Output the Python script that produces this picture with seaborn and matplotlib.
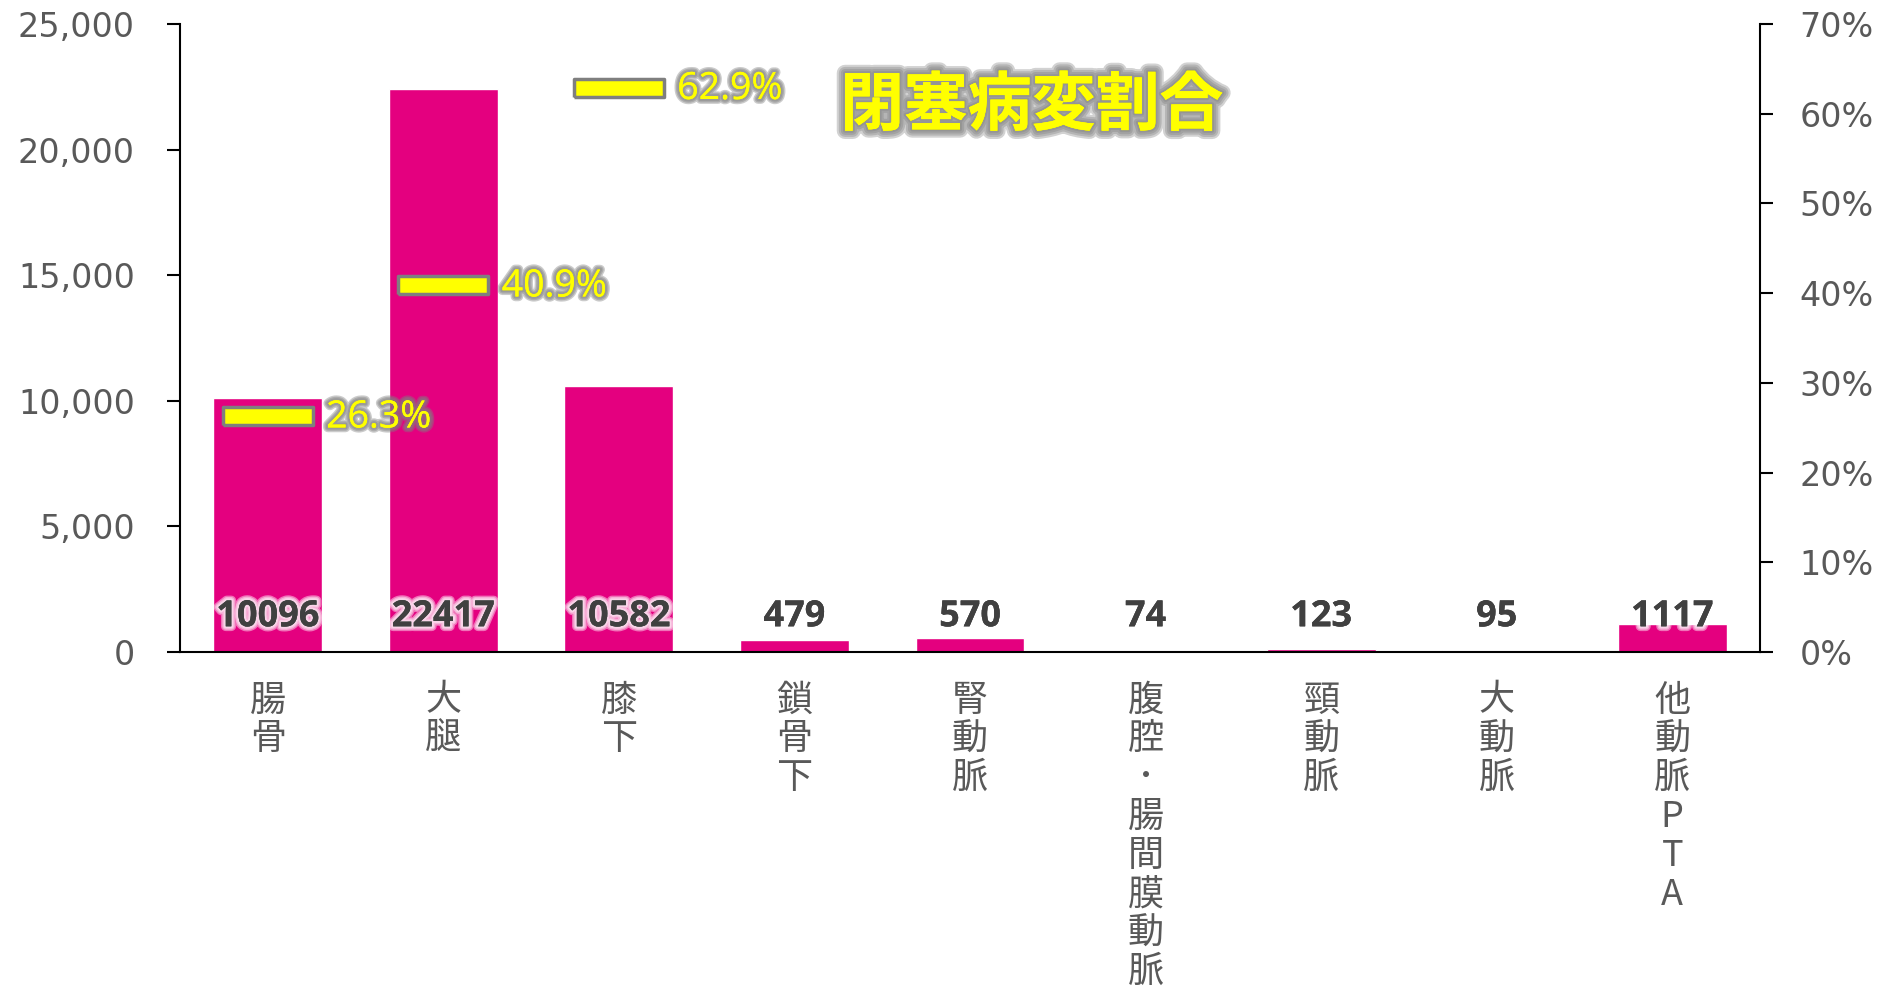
import numpy as np
import pandas as pd
import seaborn as sns
import matplotlib.pyplot as plt
import matplotlib.patheffects as pe
from matplotlib.ticker import FuncFormatter, PercentFormatter

# data
categories = ["腸骨", "大腿", "膝下", "鎖骨下", "腎動脈", "腹腔･腸間膜動脈", "頸動脈", "大動脈", "他動脈PTA"]
counts = [10096, 22417, 10582, 479, 570, 74, 123, 95, 1117]
occl_cats = ["腸骨", "大腿", "膝下"]
occl_ratio = [0.263, 0.409, 0.629]
title = "閉塞病変割合"


def glow(color, widths, alpha):
    # soft outer glow: several strokes stacked, then the text itself
    return [pe.withStroke(linewidth=w, foreground=color, alpha=alpha) for w in widths] + [pe.Normal()]


sns.set_theme(style="white")
plt.rcParams['font.family'] = ['DejaVu Sans', 'Noto Sans CJK JP']

fig = plt.figure(figsize=(18.81, 9.96), dpi=100)
ax = fig.add_axes([0.0957, 0.3454, 0.84, 0.6306])

df = pd.DataFrame({"部位": categories, "件数": counts})
sns.barplot(data=df, x="部位", y="件数", color="#E4007F", saturation=1, width=0.62, ax=ax)

ax.set_ylim(0, 25000)
ax.set_yticks(np.arange(0, 25001, 5000))
ax.yaxis.set_major_formatter(FuncFormatter(lambda v, p: f"{int(v):,}"))
ax.set_xlabel("")
ax.set_ylabel("")

# count labels near the base of each bar
for i, v in enumerate(counts):
    ax.annotate(str(v), (i, 0), xytext=(0, 25), textcoords="offset points",
                ha="center", va="center", fontsize=26, fontweight="bold",
                family="Open Sans", color="#404040", zorder=6,
                path_effects=glow("white", [7, 5, 3], 0.45))

# secondary axis: occlusion ratio
ax2 = ax.twinx()
ax2.set_ylim(0, 0.7)
ax2.set_yticks(np.arange(0, 0.71, 0.1))
ax2.yaxis.set_major_formatter(PercentFormatter(1.0, decimals=0))

pos = [categories.index(c) for c in occl_cats]
rect = [(-1, -0.19), (1, -0.19), (1, 0.19), (-1, 0.19), (-1, -0.19)]
sns.scatterplot(x=pos, y=occl_ratio, marker=rect, s=4225, color="#FFFF00",
                edgecolor="#7F7F7F", linewidth=2.5, ax=ax2, zorder=5, legend=False)
for x, v in zip(pos, occl_ratio):
    ax2.annotate(f"{v * 100:.1f}%", (x, v), xytext=(42, -1), textcoords="offset points",
                 ha="left", va="center", fontsize=27, family="Open Sans", color="#FFFF00",
                 path_effects=glow("#7F7F7F", [7, 5, 3], 0.4))

ax.set_xlim(-0.5, len(categories) - 0.5)

ax.text(0.539, 0.869, title, transform=ax.transAxes, ha="center", va="center",
        fontsize=46, fontweight="bold", color="#FFFF00", family="Noto Sans CJK JP", zorder=7,
        path_effects=glow("#7F7F7F", [12, 9, 6, 3], 0.35))

# spines and ticks
for a in (ax, ax2):
    a.spines["top"].set_visible(False)
ax.spines["right"].set_visible(False)
ax2.spines["left"].set_visible(False)
ax2.spines["bottom"].set_visible(False)
for s in (ax.spines["left"], ax.spines["bottom"], ax2.spines["right"]):
    s.set_color("black")
    s.set_linewidth(1.5)

ax.tick_params(axis="y", left=True, direction="out", length=9.5, width=1.5, color="black",
               labelsize=24, labelcolor="#595959", pad=23)
ax2.tick_params(axis="y", right=True, direction="out", length=9.5, width=1.5, color="black",
                labelsize=24, labelcolor="#595959", pad=19)
ax.tick_params(axis="x", bottom=False, length=0, pad=22)
ax.set_xticks(range(len(categories)))
ax.set_xticklabels(["\n".join(c) for c in categories], family="Noto Sans CJK JP",
                   fontsize=26, color="#595959", va="top", linespacing=1.1)

fig.savefig("out.png", dpi=100)
